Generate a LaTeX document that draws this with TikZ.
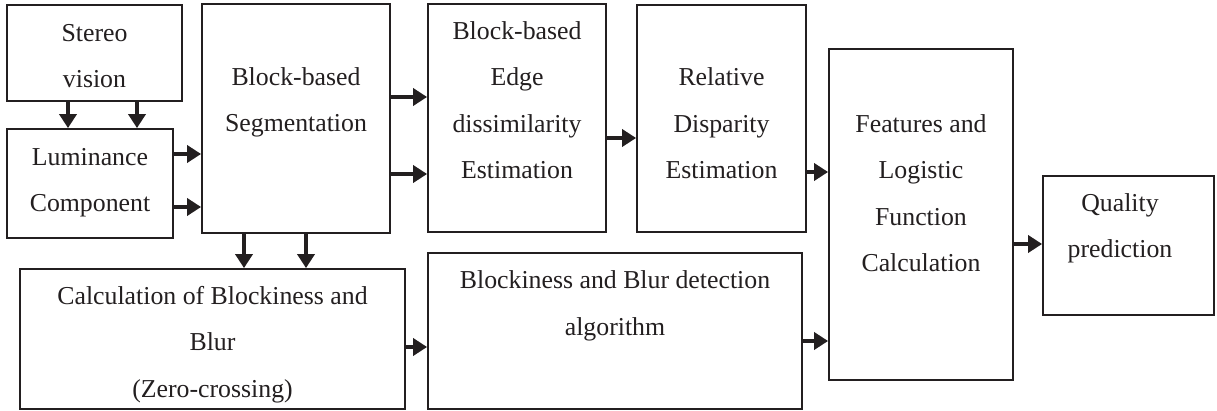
\documentclass[tikz,border=0pt]{standalone}
\usepackage{fontspec}
\setmainfont{Liberation Serif}
\usetikzlibrary{arrows.meta}
\definecolor{ink}{HTML}{231F20}
\tikzset{
  box/.style={draw=ink, line width=1.8pt, fill=white, inner sep=0pt},
  lbl/.style={anchor=base, align=center, inner sep=0pt, text=ink,
    font=\fontsize{25.8}{46.5}\selectfont},
  flow/.style={draw=ink, line width=4pt,
    -{Triangle[length=14pt,width=17pt]}, fill=ink},
}
\begin{document}
\begin{tikzpicture}[x=1pt, y=-1pt]
\useasboundingbox (0,0) rectangle (1217,411);

% blocks, given by their centres and sizes
\node[box, minimum width=175pt, minimum height=96pt] (stereo) at (94.5,53) {};
\node[box, minimum width=166pt, minimum height=109pt] (lum) at (90,183.5) {};
\node[box, minimum width=188pt, minimum height=229pt] (seg) at (296,118.5) {};
\node[box, minimum width=178pt, minimum height=228pt] (edge) at (517,118) {};
\node[box, minimum width=169pt, minimum height=227pt] (rel) at (721.5,118.5) {};
\node[box, minimum width=184pt, minimum height=331pt] (feat) at (921,214.5) {};
\node[box, minimum width=171pt, minimum height=139pt] (qual) at (1128.5,245.5) {};
\node[box, minimum width=385pt, minimum height=140pt] (calc) at (212.5,339) {};
\node[box, minimum width=374pt, minimum height=156pt] (det) at (615,331) {};

% block texts (anchored at the baseline of the last line)
\node[lbl] (stereo-t) at (94.5,88) {Stereo\\vision};
\node[lbl] (lum-t) at (90,212) {Luminance\\Component};
\node[lbl] (seg-t) at (296,132) {Block-based\\Segmentation};
\node[lbl] (edge-t) at (517,179) {Block-based\\Edge\\dissimilarity\\Estimation};
\node[lbl] (rel-t) at (721.5,179) {Relative\\Disparity\\Estimation};
\node[lbl] (feat-t) at (921,272) {Features and\\Logistic\\Function\\Calculation};
\node[lbl] (qual-t) at (1120,258) {Quality\\prediction};
\node[lbl] (calc-t) at (212.5,397) {Calculation of Blockiness and\\Blur\\(Zero-crossing)};
\node[lbl] (det-t) at (615,335) {Blockiness and Blur detection\\algorithm};

% connectors
\draw[flow] ([xshift=-26.5pt]stereo.south) -- ([xshift=-26.5pt]stereo.south |- lum.north);
\draw[flow] ([xshift=42.5pt]stereo.south) -- ([xshift=42.5pt]stereo.south |- lum.north);
\draw[flow] ([yshift=29.5pt]lum.east) -- ([yshift=29.5pt]lum.east -| seg.west);
\draw[flow] ([yshift=-23.5pt]lum.east) -- ([yshift=-23.5pt]lum.east -| seg.west);
\draw[flow] ([yshift=21.5pt]seg.east) -- ([yshift=21.5pt]seg.east -| edge.west);
\draw[flow] ([yshift=-55.5pt]seg.east) -- ([yshift=-55.5pt]seg.east -| edge.west);
\draw[flow] ([xshift=-52pt]seg.south) -- ([xshift=-52pt]seg.south |- calc.north);
\draw[flow] ([xshift=10pt]seg.south) -- ([xshift=10pt]seg.south |- calc.north);
\draw[flow] ([yshift=-20pt]edge.east) -- ([yshift=-20pt]edge.east -| rel.west);
\draw[flow] ([yshift=-53.5pt]rel.east) -- ([yshift=-53.5pt]rel.east -| feat.west);
\draw[flow] ([yshift=-8pt]calc.east) -- ([yshift=-8pt]calc.east -| det.west);
\draw[flow] ([yshift=-10pt]det.east) -- ([yshift=-10pt]det.east -| feat.west);
\draw[flow] ([yshift=-29.5pt]feat.east) -- ([yshift=-29.5pt]feat.east -| qual.west);
\end{tikzpicture}
\end{document}
